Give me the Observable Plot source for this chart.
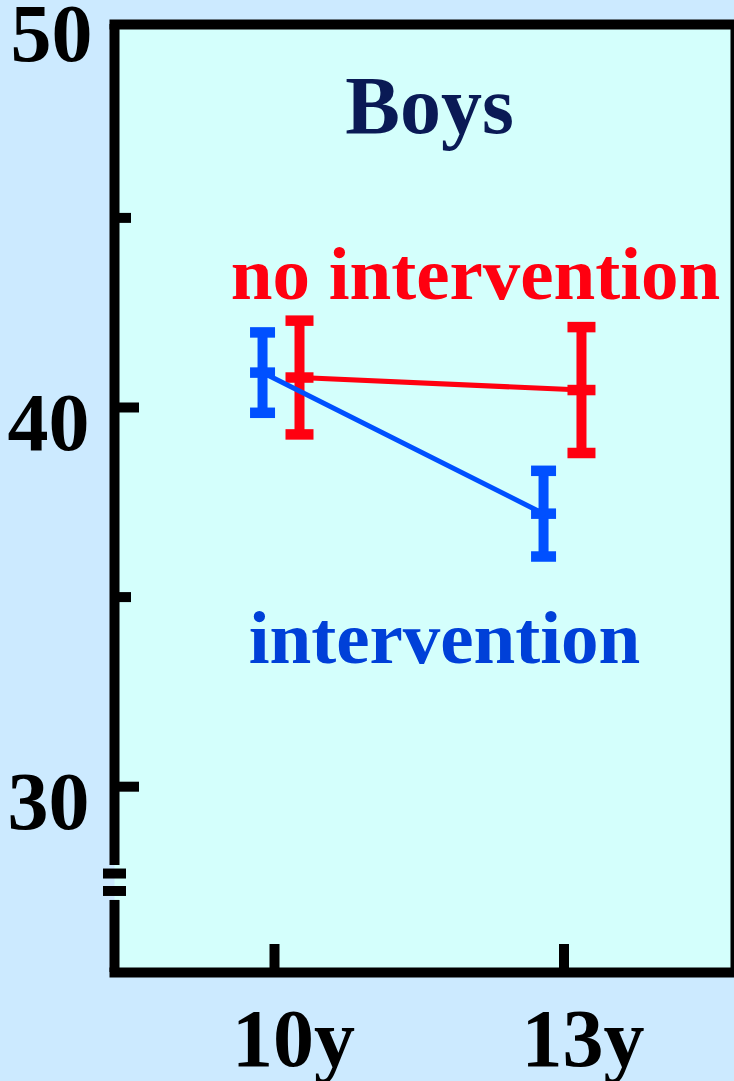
<!DOCTYPE html>
<html><head><meta charset="utf-8">
<script src="https://cdn.jsdelivr.net/npm/d3@7"></script>
<script src="https://cdn.jsdelivr.net/npm/@observablehq/plot@0.6"></script>
<style>
html,body{margin:0;padding:0;background:#cceaff;}
#chart{width:734px;height:1081px;}
</style></head><body><div id="chart"></div>
<script>
// ---- data ----
const ages = [10, 13];
const xTickLabels = ["10y", "13y"];
const interventionMean = [40.92, 37.20];
const interventionErr = [1.06, 1.13];
const noInterventionMean = [40.79, 40.46];
const noInterventionErr = [1.50, 1.66];
const yTicksLabelled = [30, 40];
const yTickTop = [50];
const yTicksMinor = [35, 45];
const title = "Boys";
const labelNo = "no intervention";
const labelYes = "intervention";

// ---- layout / style ----
const yDomain = [25.1, 50.1];
const xDomain = [8.342, 14.746];
const yBreak = [27.0, 27.92];
const breakMarks = [27.25, 27.71];
const dodgeYes = [-0.124, -0.212];
const dodgeNo = [0.259, 0.181];
const RED = "#ff0010", BLUE = "#0050ff", BLUE_TXT = "#0040d8", NAVY = "#0a1a55";
const FONT = "'Liberation Serif', 'Times New Roman', serif";

function bar(w, h) {
  return {draw(ctx) { ctx.rect(-w / 2, -h / 2, w, h); }};
}

function series(mean, err, dodge, color, capW) {
  const idx = ages.map((_, i) => i);
  const xf = i => ages[i] + dodge[i];
  const caps = idx.flatMap(i => [
    {i, v: mean[i] - err[i]}, {i, v: mean[i]}, {i, v: mean[i] + err[i]}
  ]);
  return {
    bars: [
      Plot.ruleX(idx, {x: xf, y1: i => mean[i] - err[i], y2: i => mean[i] + err[i], stroke: color, strokeWidth: 10}),
      Plot.dot(caps, {x: d => xf(d.i), y: d => d.v, symbol: bar(capW, 10.5), fill: color, stroke: "none"})
    ],
    line: Plot.line(idx, {x: xf, y: i => mean[i], stroke: color, strokeWidth: 5})
  };
}

const sNo = series(noInterventionMean, noInterventionErr, dodgeNo, RED, 28);
const sYes = series(interventionMean, interventionErr, dodgeYes, BLUE, 25);

const txt = {fontFamily: FONT, fontWeight: "bold", lineAnchor: "middle", frameAnchor: "top", text: d => d};

const chart = Plot.plot({
  width: 734, height: 1081,
  marginLeft: 114, marginRight: 2, marginTop: 24, marginBottom: 109,
  style: {background: "transparent", fontFamily: FONT},
  x: {type: "linear", domain: xDomain},
  y: {domain: yDomain},
  marks: [
    Plot.frame({fill: "#d4fffc", stroke: "none"}),
    // frame sides
    Plot.frame({anchor: "top", stroke: "black", strokeWidth: 10}),
    Plot.frame({anchor: "bottom", stroke: "black", strokeWidth: 10}),
    Plot.frame({anchor: "right", stroke: "black", strokeWidth: 4}),
    // left axis with break
    Plot.ruleX([[yDomain[1], yBreak[1]], [yBreak[0], yDomain[0]]], {x: () => xDomain[0], y1: d => d[0], y2: d => d[1], stroke: "black", strokeWidth: 10}),
    Plot.dot(breakMarks, {x: () => xDomain[0], y: d => d, symbol: bar(23, 10), fill: "black", stroke: "none"}),
    // y ticks (inward)
    Plot.axisY(yTicksLabelled, {anchor: "left", tickSize: 25, dx: 25, strokeWidth: 10, stroke: "black", fill: "none", label: null}),
    Plot.axisY(yTicksMinor, {anchor: "left", tickSize: 17, dx: 17, strokeWidth: 10, stroke: "black", fill: "none", label: null}),
    // y tick labels
    Plot.axisY(yTicksLabelled, {anchor: "left", tickSize: 0, tickPadding: 25, dy: 16, fontSize: 82, fontWeight: "bold", fontFamily: FONT, fill: "black", label: null}),
    Plot.axisY(yTickTop, {anchor: "left", tickSize: 0, tickPadding: 22, dy: 6, fontSize: 82, fontWeight: "bold", fontFamily: FONT, fill: "black", label: null}),
    // x ticks (inward) and labels
    Plot.axisX(ages, {anchor: "bottom", tickSize: 28, dy: -28, strokeWidth: 10, stroke: "black", fill: "none", label: null}),
    Plot.axisX(ages, {anchor: "bottom", tickSize: 0, tickPadding: 35, dx: 19, tickFormat: d => xTickLabels[ages.indexOf(d)], fontSize: 82, fontWeight: "bold", fontFamily: FONT, fill: "black", label: null}),
    // data
    ...sNo.bars, sNo.line,
    ...sYes.bars, sYes.line,
    // annotations
    Plot.text([title], {...txt, dx: 6, dy: 82, fontSize: 82, fill: NAVY}),
    Plot.text([labelNo], {...txt, dx: 52, dy: 250, fontSize: 75, fill: RED}),
    Plot.text([labelYes], {...txt, dx: 21, dy: 614, fontSize: 75, fill: BLUE_TXT})
  ]
});
document.getElementById("chart").appendChild(chart);
</script>
</body></html>
